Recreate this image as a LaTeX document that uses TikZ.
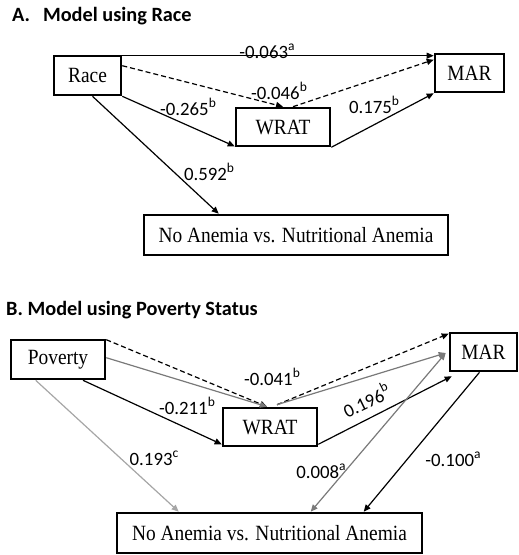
\documentclass[tikz,border=0pt]{standalone}
\usepackage{graphicx}
\usepackage{fontspec}
\setmainfont{Liberation Serif}
\newfontfamily\lblfont{Carlito}
\usetikzlibrary{arrows.meta,calc}
\newcommand{\supx}[1]{\raisebox{0.42em}{\fontsize{13.5}{13.5}\selectfont #1}}
\newcommand{\bt}[1]{\scalebox{1}[1.12]{#1}}
\begin{document}
\begin{tikzpicture}[x=1pt,y=-1pt,
  box/.style={draw,line width=2.6pt,inner sep=0pt,font=\fontsize{19.4}{22}\selectfont},
  conn/.style={line width=1.2pt,-{Triangle[length=7pt,width=6pt]}},
  dconn/.style={conn,dashed,dash pattern=on 5pt off 3pt},
  gconn/.style={conn,draw=gray!95!black},
  lgconn/.style={conn,draw=gray!70},
  lbl/.style={font=\lblfont\fontsize{18.8}{20}\selectfont,inner sep=0pt},
  ttl/.style={font=\lblfont\bfseries\fontsize{20.3}{22}\selectfont,inner sep=0pt,anchor=west}]
\useasboundingbox (0,0) rectangle (519,555);
% ---------- Part A ----------
\node[ttl] (tA) at (12,16) {A.\hspace{13pt}Model using Race};
\node[box,minimum width=67pt,minimum height=39pt] (race) at (87.5,75.5) {\bt{Race}};
\node[box,minimum width=69pt,minimum height=38pt] (marA) at (469.5,73) {\bt{MAR}};
\node[box,minimum width=94pt,minimum height=38pt] (wratA) at (283,127) {\bt{WRAT}};
\node[box,minimum width=304pt,minimum height=40pt] (noaA) at (296,235) {\bt{No Anemia vs. Nutritional Anemia}};
\draw[conn] ($(race.north east)+(0,1)$) -- ($(marA.north west)+(0,3)$);
\draw[dconn] ($(race.north east)+(0,11)$) -- (wratA.north);
\draw[dconn] ($(wratA.north)+(10,0)$) -- ($(marA.north west)+(0,7)$);
\draw[conn] (race.south east) -- ($(wratA.south west)+(0,-1)$);
\draw[conn] (wratA.south east) -- (marA.south west);
\draw[conn] ($(race.south)+(5,0)$) -- ($(noaA.north west)+(76,0)$);
\node[lbl] (l1) at (267,51) {-0.063\supx{a}};
\node[lbl] (l2) at (279,91) {-0.046\supx{b}};
\node[lbl] (l3) at (188,107) {-0.265\supx{b}};
\node[lbl] (l4) at (374,105) {0.175\supx{b}};
\node[lbl] (l5) at (209,172) {0.592\supx{b}};
% ---------- Part B ----------
\node[ttl] (tB) at (6,310) {B. Model using Poverty Status};
\node[box,minimum width=94pt,minimum height=39pt] (pov) at (58,359.5) {\bt{Poverty}};
\node[box,minimum width=67pt,minimum height=38pt] (marB) at (483.5,352) {\bt{MAR}};
\node[box,minimum width=94pt,minimum height=38pt] (wratB) at (270,427) {\bt{WRAT}};
\node[box,minimum width=305pt,minimum height=40pt] (noaB) at (269.5,533) {\bt{No Anemia vs. Nutritional Anemia}};
\draw[dconn] ($(pov.north east)+(0,1)$) -- ($(wratB.north)+(-3,0)$);
\draw[gconn] ($(pov.north east)+(0,19)$) -- ($(wratB.north)+(-3,0)$);
\draw[conn] ($(pov.south)+(25,0)$) -- ($(wratB.south west)+(0,-3)$);
\draw[dconn] ($(wratB.north)+(7,-2)$) -- ($(marB.north west)+(0,2)$);
\draw[gconn] ($(wratB.north)+(7,-2)$) -- ($(marB.west)+(-3,1)$);
\draw[conn] ($(wratB.south east)+(0,-3)$) -- ($(marB.south west)+(3,4)$);
\draw[gconn,{Triangle[length=7pt,width=6pt]}-{Triangle[length=7pt,width=6pt]}] ($(noaB.north west)+(195,0)$) -- ($(marB.west)+(-3,1)$);
\draw[conn] ($(marB.south)+(-4,0)$) -- ($(noaB.north west)+(248,0)$);
\draw[lgconn] ($(pov.south west)+(26,0)$) -- ($(noaB.north west)+(63,0)$);
\node[lbl] (m1) at (272,377) {-0.041\supx{b}};
\node[lbl] (m2) at (187,406) {-0.211\supx{b}};
\node[lbl,rotate=26] (m3) at (366,400) {0.196\supx{b}};
\node[lbl] (m4) at (154,458) {0.193\supx{c}};
\node[lbl] (m5) at (321,471) {0.008\supx{a}};
\node[lbl] (m6) at (453,459) {-0.100\supx{a}};
\end{tikzpicture}
\end{document}
